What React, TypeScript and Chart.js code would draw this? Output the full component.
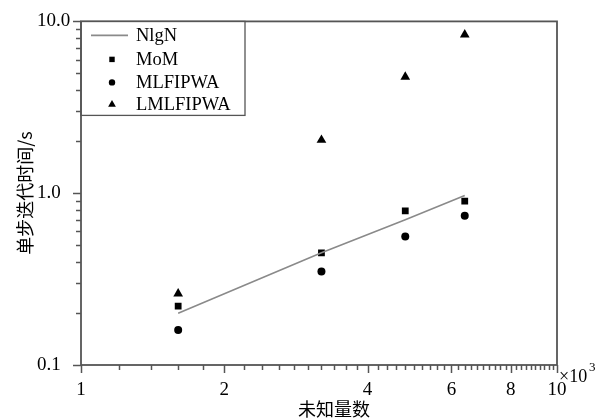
import React, { useEffect, useRef } from 'react';
import { Chart, registerables } from 'chart.js';
import { drawPoint } from 'chart.js/helpers';

Chart.register(...registerables);

// ---- data (x in units of 10^3 unknowns, y in seconds) ----
const xValues = [1.6, 3.2, 4.8, 6.4];
const nlgnValues = [0.2, 0.45, 0.7, 0.97];
const momValues = [0.22, 0.45, 0.79, 0.9];
const mlfipwaValues = [0.16, 0.35, 0.56, 0.74];
const lmlfipwaValues = [0.26, 2.04, 4.75, 8.38];

const seriesLabels = ['NlgN', 'MoM', 'MLFIPWA', 'LMLFIPWA'];
const xTickLabels = [1, 2, 4, 6, 8, 10];
const yTickLabels = [0.1, 1, 10];

const xTitle = '未知量数';
const yTitle = '单步迭代时间/s';

const SERIF = '"Liberation Serif", "DejaVu Serif", serif';
const CJK = '"Noto Sans CJK SC", "Noto Sans", sans-serif';
const AXIS_COLOR = '#555555';

const pts = (ys: number[]) => xValues.map((x, i) => ({ x, y: ys[i] }));

function yTickValues(): number[] {
  const out: number[] = [];
  for (const d of [0.1, 1]) {
    for (let m = 1; m <= 9; m++) out.push(d * m);
  }
  out.push(10);
  return out;
}

function xTickValues(): number[] {
  const out: number[] = [];
  for (let i = 5; i <= 50; i++) out.push(i / 5);
  return out;
}

const framePlugin = {
  id: 'frame',
  afterDraw(chart: any) {
    const ctx: CanvasRenderingContext2D = chart.ctx;
    const a = chart.chartArea;
    const xs = chart.scales.x;
    const ys = chart.scales.y;
    ctx.save();
    // frame
    ctx.strokeStyle = AXIS_COLOR;
    ctx.lineWidth = 1.8;
    ctx.strokeRect(a.left, a.top, a.right - a.left, a.bottom - a.top);

    // tick marks
    ctx.lineWidth = 1.5;
    ctx.strokeStyle = AXIS_COLOR;
    yTickValues().forEach((v) => {
      const py = Math.round(ys.getPixelForValue(v)) + 0.5;
      const mant = v / Math.pow(10, Math.floor(Math.log10(v) + 1e-9));
      const major = Math.abs(mant - 1) < 1e-6;
      const len = major ? 8 : 5;
      ctx.beginPath();
      ctx.moveTo(a.left - len, py);
      ctx.lineTo(a.left, py);
      ctx.stroke();
    });
    xTickValues().forEach((v) => {
      const major = xTickLabels.some((t) => Math.abs(t - v) < 1e-9);
      const px = Math.round(xs.getPixelForValue(v)) + 0.5;
      const len = major ? 8 : 5;
      ctx.beginPath();
      ctx.moveTo(px, a.bottom);
      ctx.lineTo(px, a.bottom + len);
      ctx.stroke();
    });

    // axis titles
    ctx.fillStyle = '#000';
    ctx.font = `18px ${CJK}`;
    ctx.textAlign = 'center';
    ctx.textBaseline = 'middle';
    ctx.fillText(xTitle, 334, 409);
    ctx.save();
    ctx.translate(25, 193);
    ctx.rotate(-Math.PI / 2);
    ctx.fillText(yTitle, 0, 0);
    ctx.restore();
    // x10^3
    ctx.textAlign = 'left';
    ctx.font = `18px ${SERIF}`;
    ctx.fillText('×10', a.right + 2, a.bottom + 12);
    ctx.font = `13px ${SERIF}`;
    ctx.fillText('3', a.right + 32, a.bottom + 3);

    // legend inside chart area, top-left
    const bx = a.left;
    const by = a.top;
    const bw = 164;
    const bh = 94;
    ctx.fillStyle = '#fff';
    ctx.fillRect(bx + 1, by + 1, bw - 1, bh - 1);
    ctx.strokeStyle = '#555';
    ctx.lineWidth = 1.3;
    ctx.strokeRect(bx, by, bw, bh);
    const rowY = [14, 38, 61, 83];
    chart.data.datasets.forEach((ds: any, i: number) => {
      const y = by + rowY[i];
      if (ds.showLine) {
        ctx.strokeStyle = ds.borderColor;
        ctx.lineWidth = ds.borderWidth;
        ctx.beginPath();
        ctx.moveTo(bx + 10, y);
        ctx.lineTo(bx + 47, y);
        ctx.stroke();
      } else {
        ctx.fillStyle = '#000';
        drawPoint(
          ctx,
          {
            pointStyle: ds.pointStyle,
            radius: ds.pointRadius * 0.8,
            rotation: 0,
            borderWidth: 0,
          } as any,
          bx + 31,
          y
        );
      }
      ctx.fillStyle = '#000';
      ctx.font = `18.5px ${SERIF}`;
      ctx.textAlign = 'left';
      ctx.textBaseline = 'middle';
      ctx.fillText(ds.label, bx + 55, y + 1);
    });
    ctx.restore();
  },
};

export default function App() {
  const ref = useRef<HTMLCanvasElement | null>(null);

  useEffect(() => {
    if (!ref.current) return;
    const chart = new Chart(ref.current, {
      type: 'scatter',
      data: {
        datasets: [
          {
            label: seriesLabels[0],
            data: pts(nlgnValues),
            showLine: true,
            borderColor: '#8a8a8a',
            borderWidth: 1.6,
            pointRadius: 0,
            pointHoverRadius: 0,
          },
          {
            label: seriesLabels[1],
            data: pts(momValues),
            showLine: false,
            pointStyle: 'rect',
            pointRadius: 4.8,
            backgroundColor: '#000',
            borderColor: '#000',
            borderWidth: 0,
          },
          {
            label: seriesLabels[2],
            data: pts(mlfipwaValues),
            showLine: false,
            pointStyle: 'circle',
            pointRadius: 4,
            backgroundColor: '#000',
            borderColor: '#000',
            borderWidth: 0,
          },
          {
            label: seriesLabels[3],
            data: pts(lmlfipwaValues),
            showLine: false,
            pointStyle: 'triangle',
            pointRadius: 5.6,
            backgroundColor: '#000',
            borderColor: '#000',
            borderWidth: 0,
          },
        ] as any,
      },
      options: {
        animation: false,
        responsive: false,
        devicePixelRatio: 1,
        layout: { padding: { top: 19, right: 47, bottom: 0, left: 37 } },
        plugins: {
          legend: { display: false },
          tooltip: { enabled: false },
        },
        scales: {
          x: {
            type: 'logarithmic',
            min: 1,
            max: 10,
            border: { display: false },
            grid: { display: false, drawTicks: false },
            afterBuildTicks: (s: any) => {
              s.ticks = xTickLabels.map((v) => ({ value: v }));
            },
            afterFit: (s: any) => {
              s.height = 55;
            },
            ticks: {
              autoSkip: false,
              maxRotation: 0,
              padding: 14,
              color: '#000',
              font: { family: SERIF, size: 19 },
              callback: (v: any) => String(v),
            },
          },
          y: {
            type: 'logarithmic',
            min: 0.1,
            max: 10,
            border: { display: false },
            grid: { display: false, drawTicks: false },
            afterBuildTicks: (s: any) => {
              s.ticks = yTickLabels.map((v) => ({ value: v }));
            },
            afterFit: (s: any) => {
              s.width = 44;
            },
            ticks: {
              autoSkip: false,
              crossAlign: 'far',
              padding: 10,
              color: '#000',
              font: { family: SERIF, size: 19 },
              callback: (v: any) => Number(v).toFixed(1),
            },
          },
        },
      } as any,
      plugins: [framePlugin],
    });
    return () => chart.destroy();
  }, []);

  return (
    <canvas
      ref={ref}
      width={604}
      height={420}
      style={{ position: 'fixed', left: 0, top: 0, width: 604, height: 420, background: '#fff' }}
    />
  );
}
